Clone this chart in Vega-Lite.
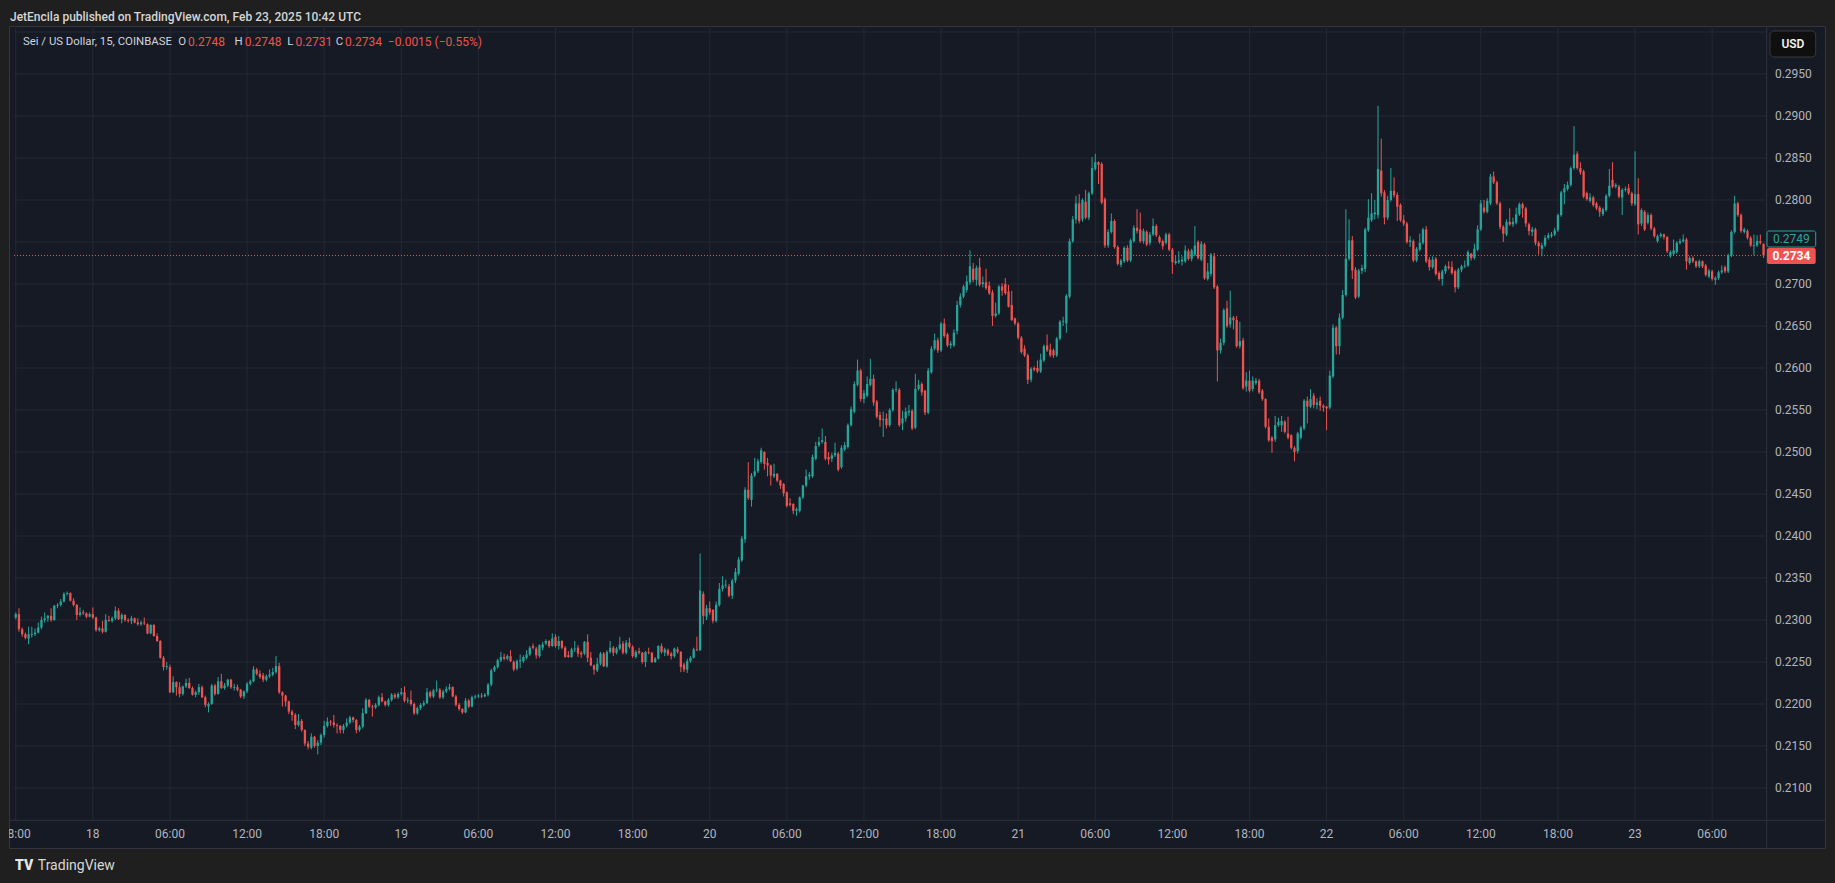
{
  "$schema": "https://vega.github.io/schema/vega-lite/v6.json",
  "width": 1816,
  "height": 822,
  "autosize": {"type": "none"},
  "padding": {"left": 9, "top": 26, "right": 10, "bottom": 35},
  "background": "#1f1f1f",
  "config": {
    "view": {"fill": "#161a25", "stroke": "#33363f", "strokeWidth": 1},
    "font": "Roboto",
    "text": {"font": "Roboto"}
  },
  "title": {
    "text": "JetEncila published on TradingView.com, Feb 23, 2025 10:42 UTC",
    "anchor": "start", "frame": "group", "baseline": "middle", "offset": -3, "dx": 1,
    "font": "Roboto", "fontSize": 12, "fontWeight": 500, "color": "#d6d6d6"
  },
  "datasets": {
    "levels": [
      {"p": 0.21}, {"p": 0.215}, {"p": 0.22}, {"p": 0.225}, {"p": 0.23}, {"p": 0.235}, {"p": 0.24},
      {"p": 0.245}, {"p": 0.25}, {"p": 0.255}, {"p": 0.26}, {"p": 0.265}, {"p": 0.27}, {"p": 0.275},
      {"p": 0.28}, {"p": 0.285}, {"p": 0.29}, {"p": 0.295}, {"p": 0.3}
    ],
    "ticks": [
      {"t": "2025-02-17T18:00", "lab": "18:00"}, {"t": "2025-02-18T00:00", "lab": "18"}, {"t": "2025-02-18T06:00", "lab": "06:00"}, {"t": "2025-02-18T12:00", "lab": "12:00"},
      {"t": "2025-02-18T18:00", "lab": "18:00"}, {"t": "2025-02-19T00:00", "lab": "19"}, {"t": "2025-02-19T06:00", "lab": "06:00"}, {"t": "2025-02-19T12:00", "lab": "12:00"},
      {"t": "2025-02-19T18:00", "lab": "18:00"}, {"t": "2025-02-20T00:00", "lab": "20"}, {"t": "2025-02-20T06:00", "lab": "06:00"}, {"t": "2025-02-20T12:00", "lab": "12:00"},
      {"t": "2025-02-20T18:00", "lab": "18:00"}, {"t": "2025-02-21T00:00", "lab": "21"}, {"t": "2025-02-21T06:00", "lab": "06:00"}, {"t": "2025-02-21T12:00", "lab": "12:00"},
      {"t": "2025-02-21T18:00", "lab": "18:00"}, {"t": "2025-02-22T00:00", "lab": "22"}, {"t": "2025-02-22T06:00", "lab": "06:00"}, {"t": "2025-02-22T12:00", "lab": "12:00"},
      {"t": "2025-02-22T18:00", "lab": "18:00"}, {"t": "2025-02-23T00:00", "lab": "23"}, {"t": "2025-02-23T06:00", "lab": "06:00"}
    ],
    "candles": [
      {"t":"2025-02-17T18:00","o":0.2303,"h":0.2309,"l":0.2301,"c":0.2307},
      {"t":"2025-02-17T18:15","o":0.2307,"h":0.2314,"l":0.2286,"c":0.2289},
      {"t":"2025-02-17T18:30","o":0.2289,"h":0.2291,"l":0.2280,"c":0.2283},
      {"t":"2025-02-17T18:45","o":0.2283,"h":0.2285,"l":0.2277,"c":0.2279},
      {"t":"2025-02-17T19:00","o":0.2278,"h":0.2292,"l":0.2271,"c":0.2283},
      {"t":"2025-02-17T19:15","o":0.2282,"h":0.2292,"l":0.2279,"c":0.2283},
      {"t":"2025-02-17T19:30","o":0.2283,"h":0.2290,"l":0.2281,"c":0.2285},
      {"t":"2025-02-17T19:45","o":0.2285,"h":0.2297,"l":0.2284,"c":0.2291},
      {"t":"2025-02-17T20:00","o":0.2291,"h":0.2304,"l":0.2289,"c":0.2300},
      {"t":"2025-02-17T20:15","o":0.2300,"h":0.2309,"l":0.2297,"c":0.2302},
      {"t":"2025-02-17T20:30","o":0.2302,"h":0.2306,"l":0.2298,"c":0.2305},
      {"t":"2025-02-17T20:45","o":0.2305,"h":0.2314,"l":0.2298,"c":0.2300},
      {"t":"2025-02-17T21:00","o":0.2300,"h":0.2318,"l":0.2299,"c":0.2317},
      {"t":"2025-02-17T21:15","o":0.2317,"h":0.2320,"l":0.2314,"c":0.2318},
      {"t":"2025-02-17T21:30","o":0.2318,"h":0.2325,"l":0.2316,"c":0.2322},
      {"t":"2025-02-17T21:45","o":0.2322,"h":0.2333,"l":0.2321,"c":0.2331},
      {"t":"2025-02-17T22:00","o":0.2331,"h":0.2334,"l":0.2329,"c":0.2332},
      {"t":"2025-02-17T22:15","o":0.2332,"h":0.2333,"l":0.2322,"c":0.2323},
      {"t":"2025-02-17T22:30","o":0.2323,"h":0.2326,"l":0.2316,"c":0.2318},
      {"t":"2025-02-17T22:45","o":0.2318,"h":0.2319,"l":0.2300,"c":0.2306},
      {"t":"2025-02-17T23:00","o":0.2306,"h":0.2315,"l":0.2304,"c":0.2309},
      {"t":"2025-02-17T23:15","o":0.2309,"h":0.2312,"l":0.2306,"c":0.2308},
      {"t":"2025-02-17T23:30","o":0.2308,"h":0.2309,"l":0.2302,"c":0.2304},
      {"t":"2025-02-17T23:45","o":0.2304,"h":0.2309,"l":0.2303,"c":0.2307},
      {"t":"2025-02-18T00:00","o":0.2307,"h":0.2315,"l":0.2301,"c":0.2303},
      {"t":"2025-02-18T00:15","o":0.2303,"h":0.2304,"l":0.2286,"c":0.2288},
      {"t":"2025-02-18T00:30","o":0.2288,"h":0.2292,"l":0.2286,"c":0.2290},
      {"t":"2025-02-18T00:45","o":0.2290,"h":0.2299,"l":0.2284,"c":0.2286},
      {"t":"2025-02-18T01:00","o":0.2286,"h":0.2307,"l":0.2285,"c":0.2300},
      {"t":"2025-02-18T01:15","o":0.2300,"h":0.2305,"l":0.2298,"c":0.2299},
      {"t":"2025-02-18T01:30","o":0.2299,"h":0.2304,"l":0.2297,"c":0.2302},
      {"t":"2025-02-18T01:45","o":0.2302,"h":0.2316,"l":0.2300,"c":0.2311},
      {"t":"2025-02-18T02:00","o":0.2311,"h":0.2314,"l":0.2300,"c":0.2301},
      {"t":"2025-02-18T02:15","o":0.2301,"h":0.2308,"l":0.2296,"c":0.2306},
      {"t":"2025-02-18T02:30","o":0.2306,"h":0.2307,"l":0.2298,"c":0.2300},
      {"t":"2025-02-18T02:45","o":0.2300,"h":0.2302,"l":0.2297,"c":0.2299},
      {"t":"2025-02-18T03:00","o":0.2299,"h":0.2305,"l":0.2295,"c":0.2302},
      {"t":"2025-02-18T03:15","o":0.2302,"h":0.2303,"l":0.2296,"c":0.2297},
      {"t":"2025-02-18T03:30","o":0.2297,"h":0.2302,"l":0.2293,"c":0.2295},
      {"t":"2025-02-18T03:45","o":0.2295,"h":0.2299,"l":0.2293,"c":0.2297},
      {"t":"2025-02-18T04:00","o":0.2297,"h":0.2303,"l":0.2294,"c":0.2296},
      {"t":"2025-02-18T04:15","o":0.2295,"h":0.2296,"l":0.2283,"c":0.2284},
      {"t":"2025-02-18T04:30","o":0.2284,"h":0.2295,"l":0.2283,"c":0.2294},
      {"t":"2025-02-18T04:45","o":0.2294,"h":0.2295,"l":0.2280,"c":0.2281},
      {"t":"2025-02-18T05:00","o":0.2281,"h":0.2284,"l":0.2274,"c":0.2275},
      {"t":"2025-02-18T05:15","o":0.2275,"h":0.2276,"l":0.2254,"c":0.2255},
      {"t":"2025-02-18T05:30","o":0.2255,"h":0.2257,"l":0.2240,"c":0.2244},
      {"t":"2025-02-18T05:45","o":0.2244,"h":0.2250,"l":0.2241,"c":0.2245},
      {"t":"2025-02-18T06:00","o":0.2244,"h":0.2247,"l":0.2213,"c":0.2214},
      {"t":"2025-02-18T06:15","o":0.2214,"h":0.2233,"l":0.2213,"c":0.2226},
      {"t":"2025-02-18T06:30","o":0.2226,"h":0.2227,"l":0.2210,"c":0.2220},
      {"t":"2025-02-18T06:45","o":0.2220,"h":0.2226,"l":0.2208,"c":0.2212},
      {"t":"2025-02-18T07:00","o":0.2212,"h":0.2222,"l":0.2210,"c":0.2221},
      {"t":"2025-02-18T07:15","o":0.2221,"h":0.2230,"l":0.2219,"c":0.2225},
      {"t":"2025-02-18T07:30","o":0.2225,"h":0.2231,"l":0.2218,"c":0.2219},
      {"t":"2025-02-18T07:45","o":0.2219,"h":0.2221,"l":0.2210,"c":0.2211},
      {"t":"2025-02-18T08:00","o":0.2211,"h":0.2216,"l":0.2208,"c":0.2214},
      {"t":"2025-02-18T08:15","o":0.2214,"h":0.2224,"l":0.2211,"c":0.2220},
      {"t":"2025-02-18T08:30","o":0.2220,"h":0.2222,"l":0.2207,"c":0.2208},
      {"t":"2025-02-18T08:45","o":0.2208,"h":0.2210,"l":0.2196,"c":0.2199},
      {"t":"2025-02-18T09:00","o":0.2197,"h":0.2202,"l":0.2190,"c":0.2200},
      {"t":"2025-02-18T09:15","o":0.2200,"h":0.2224,"l":0.2199,"c":0.2222},
      {"t":"2025-02-18T09:30","o":0.2222,"h":0.2224,"l":0.2210,"c":0.2212},
      {"t":"2025-02-18T09:45","o":0.2212,"h":0.2232,"l":0.2211,"c":0.2227},
      {"t":"2025-02-18T10:00","o":0.2227,"h":0.2236,"l":0.2218,"c":0.2219},
      {"t":"2025-02-18T10:15","o":0.2219,"h":0.2225,"l":0.2217,"c":0.2222},
      {"t":"2025-02-18T10:30","o":0.2222,"h":0.2230,"l":0.2220,"c":0.2229},
      {"t":"2025-02-18T10:45","o":0.2229,"h":0.2230,"l":0.2218,"c":0.2220},
      {"t":"2025-02-18T11:00","o":0.2219,"h":0.2224,"l":0.2216,"c":0.2220},
      {"t":"2025-02-18T11:15","o":0.2220,"h":0.2223,"l":0.2215,"c":0.2217},
      {"t":"2025-02-18T11:30","o":0.2217,"h":0.2218,"l":0.2207,"c":0.2209},
      {"t":"2025-02-18T11:45","o":0.2209,"h":0.2216,"l":0.2206,"c":0.2215},
      {"t":"2025-02-18T12:00","o":0.2215,"h":0.2226,"l":0.2213,"c":0.2224},
      {"t":"2025-02-18T12:15","o":0.2224,"h":0.2229,"l":0.2222,"c":0.2227},
      {"t":"2025-02-18T12:30","o":0.2227,"h":0.2245,"l":0.2226,"c":0.2241},
      {"t":"2025-02-18T12:45","o":0.2241,"h":0.2243,"l":0.2234,"c":0.2236},
      {"t":"2025-02-18T13:00","o":0.2236,"h":0.2240,"l":0.2230,"c":0.2232},
      {"t":"2025-02-18T13:15","o":0.2234,"h":0.2237,"l":0.2226,"c":0.2229},
      {"t":"2025-02-18T13:30","o":0.2229,"h":0.2235,"l":0.2227,"c":0.2233},
      {"t":"2025-02-18T13:45","o":0.2233,"h":0.2241,"l":0.2231,"c":0.2235},
      {"t":"2025-02-18T14:00","o":0.2235,"h":0.2243,"l":0.2233,"c":0.2238},
      {"t":"2025-02-18T14:15","o":0.2238,"h":0.2257,"l":0.2236,"c":0.2245},
      {"t":"2025-02-18T14:30","o":0.2245,"h":0.2249,"l":0.2212,"c":0.2214},
      {"t":"2025-02-18T14:45","o":0.2214,"h":0.2215,"l":0.2197,"c":0.2210},
      {"t":"2025-02-18T15:00","o":0.2210,"h":0.2211,"l":0.2197,"c":0.2203},
      {"t":"2025-02-18T15:15","o":0.2203,"h":0.2204,"l":0.2188,"c":0.2191},
      {"t":"2025-02-18T15:30","o":0.2191,"h":0.2193,"l":0.2180,"c":0.2187},
      {"t":"2025-02-18T15:45","o":0.2187,"h":0.2189,"l":0.2170,"c":0.2175},
      {"t":"2025-02-18T16:00","o":0.2175,"h":0.2188,"l":0.2173,"c":0.2180},
      {"t":"2025-02-18T16:15","o":0.2180,"h":0.2182,"l":0.2167,"c":0.2169},
      {"t":"2025-02-18T16:30","o":0.2169,"h":0.2170,"l":0.2150,"c":0.2153},
      {"t":"2025-02-18T16:45","o":0.2153,"h":0.2156,"l":0.2146,"c":0.2149},
      {"t":"2025-02-18T17:00","o":0.2148,"h":0.2165,"l":0.2146,"c":0.2161},
      {"t":"2025-02-18T17:15","o":0.2161,"h":0.2162,"l":0.2148,"c":0.2150},
      {"t":"2025-02-18T17:30","o":0.2150,"h":0.2157,"l":0.2140,"c":0.2154},
      {"t":"2025-02-18T17:45","o":0.2154,"h":0.2165,"l":0.2151,"c":0.2163},
      {"t":"2025-02-18T18:00","o":0.2163,"h":0.2180,"l":0.2160,"c":0.2174},
      {"t":"2025-02-18T18:15","o":0.2174,"h":0.2184,"l":0.2172,"c":0.2179},
      {"t":"2025-02-18T18:30","o":0.2179,"h":0.2181,"l":0.2174,"c":0.2178},
      {"t":"2025-02-18T18:45","o":0.2178,"h":0.2187,"l":0.2172,"c":0.2175},
      {"t":"2025-02-18T19:00","o":0.2175,"h":0.2177,"l":0.2165,"c":0.2174},
      {"t":"2025-02-18T19:15","o":0.2174,"h":0.2175,"l":0.2165,"c":0.2169},
      {"t":"2025-02-18T19:30","o":0.2169,"h":0.2176,"l":0.2165,"c":0.2174},
      {"t":"2025-02-18T19:45","o":0.2174,"h":0.2183,"l":0.2172,"c":0.2178},
      {"t":"2025-02-18T20:00","o":0.2178,"h":0.2186,"l":0.2176,"c":0.2184},
      {"t":"2025-02-18T20:15","o":0.2184,"h":0.2185,"l":0.2178,"c":0.2181},
      {"t":"2025-02-18T20:30","o":0.2181,"h":0.2182,"l":0.2165,"c":0.2169},
      {"t":"2025-02-18T20:45","o":0.2169,"h":0.2175,"l":0.2167,"c":0.2173},
      {"t":"2025-02-18T21:00","o":0.2173,"h":0.2195,"l":0.2171,"c":0.2189},
      {"t":"2025-02-18T21:15","o":0.2189,"h":0.2207,"l":0.2188,"c":0.2205},
      {"t":"2025-02-18T21:30","o":0.2205,"h":0.2206,"l":0.2195,"c":0.2197},
      {"t":"2025-02-18T21:45","o":0.2197,"h":0.2199,"l":0.2185,"c":0.2196},
      {"t":"2025-02-18T22:00","o":0.2196,"h":0.2201,"l":0.2194,"c":0.2199},
      {"t":"2025-02-18T22:15","o":0.2199,"h":0.2210,"l":0.2197,"c":0.2208},
      {"t":"2025-02-18T22:30","o":0.2208,"h":0.2213,"l":0.2202,"c":0.2203},
      {"t":"2025-02-18T22:45","o":0.2203,"h":0.2204,"l":0.2197,"c":0.2199},
      {"t":"2025-02-18T23:00","o":0.2199,"h":0.2207,"l":0.2197,"c":0.2205},
      {"t":"2025-02-18T23:15","o":0.2205,"h":0.2213,"l":0.2203,"c":0.2211},
      {"t":"2025-02-18T23:30","o":0.2211,"h":0.2213,"l":0.2206,"c":0.2208},
      {"t":"2025-02-18T23:45","o":0.2208,"h":0.2214,"l":0.2206,"c":0.2212},
      {"t":"2025-02-19T00:00","o":0.2212,"h":0.2219,"l":0.2210,"c":0.2214},
      {"t":"2025-02-19T00:15","o":0.2214,"h":0.2221,"l":0.2202,"c":0.2204},
      {"t":"2025-02-19T00:30","o":0.2204,"h":0.2208,"l":0.2201,"c":0.2205},
      {"t":"2025-02-19T00:45","o":0.2205,"h":0.2216,"l":0.2198,"c":0.2200},
      {"t":"2025-02-19T01:00","o":0.2200,"h":0.2202,"l":0.2187,"c":0.2189},
      {"t":"2025-02-19T01:15","o":0.2189,"h":0.2197,"l":0.2187,"c":0.2195},
      {"t":"2025-02-19T01:30","o":0.2195,"h":0.2201,"l":0.2193,"c":0.2199},
      {"t":"2025-02-19T01:45","o":0.2199,"h":0.2204,"l":0.2197,"c":0.2201},
      {"t":"2025-02-19T02:00","o":0.2201,"h":0.2219,"l":0.2200,"c":0.2214},
      {"t":"2025-02-19T02:15","o":0.2214,"h":0.2216,"l":0.2207,"c":0.2209},
      {"t":"2025-02-19T02:30","o":0.2209,"h":0.2218,"l":0.2207,"c":0.2216},
      {"t":"2025-02-19T02:45","o":0.2216,"h":0.2228,"l":0.2214,"c":0.2217},
      {"t":"2025-02-19T03:00","o":0.2217,"h":0.2219,"l":0.2206,"c":0.2208},
      {"t":"2025-02-19T03:15","o":0.2208,"h":0.2217,"l":0.2206,"c":0.2215},
      {"t":"2025-02-19T03:30","o":0.2215,"h":0.2221,"l":0.2213,"c":0.2218},
      {"t":"2025-02-19T03:45","o":0.2218,"h":0.2224,"l":0.2216,"c":0.2220},
      {"t":"2025-02-19T04:00","o":0.2220,"h":0.2221,"l":0.2208,"c":0.2209},
      {"t":"2025-02-19T04:15","o":0.2209,"h":0.2211,"l":0.2197,"c":0.2199},
      {"t":"2025-02-19T04:30","o":0.2199,"h":0.2201,"l":0.2192,"c":0.2194},
      {"t":"2025-02-19T04:45","o":0.2194,"h":0.2195,"l":0.2188,"c":0.2190},
      {"t":"2025-02-19T05:00","o":0.2190,"h":0.2207,"l":0.2189,"c":0.2204},
      {"t":"2025-02-19T05:15","o":0.2204,"h":0.2206,"l":0.2195,"c":0.2197},
      {"t":"2025-02-19T05:30","o":0.2197,"h":0.2210,"l":0.2196,"c":0.2208},
      {"t":"2025-02-19T05:45","o":0.2208,"h":0.2211,"l":0.2206,"c":0.2209},
      {"t":"2025-02-19T06:00","o":0.2209,"h":0.2212,"l":0.2207,"c":0.2210},
      {"t":"2025-02-19T06:15","o":0.2210,"h":0.2213,"l":0.2207,"c":0.2209},
      {"t":"2025-02-19T06:30","o":0.2209,"h":0.2213,"l":0.2208,"c":0.2211},
      {"t":"2025-02-19T06:45","o":0.2211,"h":0.2225,"l":0.2209,"c":0.2223},
      {"t":"2025-02-19T07:00","o":0.2223,"h":0.2242,"l":0.2221,"c":0.2240},
      {"t":"2025-02-19T07:15","o":0.2240,"h":0.2246,"l":0.2238,"c":0.2244},
      {"t":"2025-02-19T07:30","o":0.2244,"h":0.2254,"l":0.2242,"c":0.2252},
      {"t":"2025-02-19T07:45","o":0.2252,"h":0.2262,"l":0.2250,"c":0.2256},
      {"t":"2025-02-19T08:00","o":0.2256,"h":0.2260,"l":0.2252,"c":0.2254},
      {"t":"2025-02-19T08:15","o":0.2254,"h":0.2259,"l":0.2252,"c":0.2257},
      {"t":"2025-02-19T08:30","o":0.2257,"h":0.2264,"l":0.2250,"c":0.2251},
      {"t":"2025-02-19T08:45","o":0.2250,"h":0.2252,"l":0.2239,"c":0.2241},
      {"t":"2025-02-19T09:00","o":0.2242,"h":0.2253,"l":0.2240,"c":0.2251},
      {"t":"2025-02-19T09:15","o":0.2251,"h":0.2259,"l":0.2243,"c":0.2252},
      {"t":"2025-02-19T09:30","o":0.2251,"h":0.2258,"l":0.2249,"c":0.2256},
      {"t":"2025-02-19T09:45","o":0.2255,"h":0.2264,"l":0.2253,"c":0.2259},
      {"t":"2025-02-19T10:00","o":0.2259,"h":0.2269,"l":0.2257,"c":0.2267},
      {"t":"2025-02-19T10:15","o":0.2269,"h":0.2272,"l":0.2265,"c":0.2267},
      {"t":"2025-02-19T10:30","o":0.2266,"h":0.2268,"l":0.2254,"c":0.2258},
      {"t":"2025-02-19T10:45","o":0.2257,"h":0.2271,"l":0.2255,"c":0.2270},
      {"t":"2025-02-19T11:00","o":0.2267,"h":0.2274,"l":0.2264,"c":0.2271},
      {"t":"2025-02-19T11:15","o":0.2272,"h":0.2277,"l":0.2270,"c":0.2275},
      {"t":"2025-02-19T11:30","o":0.2275,"h":0.2276,"l":0.2267,"c":0.2269},
      {"t":"2025-02-19T11:45","o":0.2269,"h":0.2284,"l":0.2268,"c":0.2278},
      {"t":"2025-02-19T12:00","o":0.2280,"h":0.2283,"l":0.2267,"c":0.2269},
      {"t":"2025-02-19T12:15","o":0.2269,"h":0.2281,"l":0.2265,"c":0.2275},
      {"t":"2025-02-19T12:30","o":0.2275,"h":0.2276,"l":0.2265,"c":0.2267},
      {"t":"2025-02-19T12:45","o":0.2267,"h":0.2269,"l":0.2255,"c":0.2256},
      {"t":"2025-02-19T13:00","o":0.2258,"h":0.2263,"l":0.2255,"c":0.2256},
      {"t":"2025-02-19T13:15","o":0.2256,"h":0.2267,"l":0.2255,"c":0.2265},
      {"t":"2025-02-19T13:30","o":0.2265,"h":0.2275,"l":0.2262,"c":0.2266},
      {"t":"2025-02-19T13:45","o":0.2267,"h":0.2270,"l":0.2256,"c":0.2260},
      {"t":"2025-02-19T14:00","o":0.2261,"h":0.2263,"l":0.2255,"c":0.2259},
      {"t":"2025-02-19T14:15","o":0.2260,"h":0.2275,"l":0.2258,"c":0.2274},
      {"t":"2025-02-19T14:30","o":0.2274,"h":0.2283,"l":0.2250,"c":0.2255},
      {"t":"2025-02-19T14:45","o":0.2255,"h":0.2262,"l":0.2245,"c":0.2246},
      {"t":"2025-02-19T15:00","o":0.2246,"h":0.2247,"l":0.2235,"c":0.2241},
      {"t":"2025-02-19T15:15","o":0.2240,"h":0.2255,"l":0.2238,"c":0.2248},
      {"t":"2025-02-19T15:30","o":0.2248,"h":0.2262,"l":0.2246,"c":0.2260},
      {"t":"2025-02-19T15:45","o":0.2260,"h":0.2262,"l":0.2244,"c":0.2245},
      {"t":"2025-02-19T16:00","o":0.2245,"h":0.2264,"l":0.2243,"c":0.2262},
      {"t":"2025-02-19T16:15","o":0.2262,"h":0.2275,"l":0.2260,"c":0.2267},
      {"t":"2025-02-19T16:30","o":0.2267,"h":0.2269,"l":0.2257,"c":0.2261},
      {"t":"2025-02-19T16:45","o":0.2261,"h":0.2268,"l":0.2259,"c":0.2266},
      {"t":"2025-02-19T17:00","o":0.2266,"h":0.2280,"l":0.2264,"c":0.2271},
      {"t":"2025-02-19T17:15","o":0.2272,"h":0.2275,"l":0.2259,"c":0.2261},
      {"t":"2025-02-19T17:30","o":0.2261,"h":0.2276,"l":0.2259,"c":0.2273},
      {"t":"2025-02-19T17:45","o":0.2273,"h":0.2279,"l":0.2266,"c":0.2268},
      {"t":"2025-02-19T18:00","o":0.2268,"h":0.2270,"l":0.2255,"c":0.2257},
      {"t":"2025-02-19T18:15","o":0.2256,"h":0.2264,"l":0.2254,"c":0.2262},
      {"t":"2025-02-19T18:30","o":0.2263,"h":0.2267,"l":0.2259,"c":0.2261},
      {"t":"2025-02-19T18:45","o":0.2261,"h":0.2262,"l":0.2248,"c":0.2250},
      {"t":"2025-02-19T19:00","o":0.2250,"h":0.2263,"l":0.2244,"c":0.2262},
      {"t":"2025-02-19T19:15","o":0.2262,"h":0.2267,"l":0.2259,"c":0.2261},
      {"t":"2025-02-19T19:30","o":0.2261,"h":0.2262,"l":0.2249,"c":0.2250},
      {"t":"2025-02-19T19:45","o":0.2250,"h":0.2256,"l":0.2249,"c":0.2254},
      {"t":"2025-02-19T20:00","o":0.2254,"h":0.2270,"l":0.2253,"c":0.2269},
      {"t":"2025-02-19T20:15","o":0.2269,"h":0.2272,"l":0.2260,"c":0.2262},
      {"t":"2025-02-19T20:30","o":0.2261,"h":0.2267,"l":0.2257,"c":0.2265},
      {"t":"2025-02-19T20:45","o":0.2264,"h":0.2266,"l":0.2257,"c":0.2259},
      {"t":"2025-02-19T21:00","o":0.2260,"h":0.2262,"l":0.2253,"c":0.2257},
      {"t":"2025-02-19T21:15","o":0.2257,"h":0.2267,"l":0.2255,"c":0.2266},
      {"t":"2025-02-19T21:30","o":0.2265,"h":0.2268,"l":0.2260,"c":0.2262},
      {"t":"2025-02-19T21:45","o":0.2262,"h":0.2263,"l":0.2238,"c":0.2244},
      {"t":"2025-02-19T22:00","o":0.2247,"h":0.2249,"l":0.2238,"c":0.2241},
      {"t":"2025-02-19T22:15","o":0.2241,"h":0.2254,"l":0.2237,"c":0.2251},
      {"t":"2025-02-19T22:30","o":0.2251,"h":0.2257,"l":0.2249,"c":0.2255},
      {"t":"2025-02-19T22:45","o":0.2255,"h":0.2267,"l":0.2254,"c":0.2265},
      {"t":"2025-02-19T23:00","o":0.2265,"h":0.2280,"l":0.2263,"c":0.2264},
      {"t":"2025-02-19T23:15","o":0.2264,"h":0.2379,"l":0.2263,"c":0.2335},
      {"t":"2025-02-19T23:30","o":0.2331,"h":0.2334,"l":0.2295,"c":0.2305},
      {"t":"2025-02-19T23:45","o":0.2304,"h":0.2318,"l":0.2300,"c":0.2314},
      {"t":"2025-02-20T00:00","o":0.2314,"h":0.2322,"l":0.2306,"c":0.2309},
      {"t":"2025-02-20T00:15","o":0.2312,"h":0.2313,"l":0.2296,"c":0.2299},
      {"t":"2025-02-20T00:30","o":0.2299,"h":0.2322,"l":0.2297,"c":0.2318},
      {"t":"2025-02-20T00:45","o":0.2318,"h":0.2344,"l":0.2316,"c":0.2337},
      {"t":"2025-02-20T01:00","o":0.2337,"h":0.2352,"l":0.2334,"c":0.2341},
      {"t":"2025-02-20T01:15","o":0.2341,"h":0.2348,"l":0.2338,"c":0.2342},
      {"t":"2025-02-20T01:30","o":0.2340,"h":0.2343,"l":0.2327,"c":0.2329},
      {"t":"2025-02-20T01:45","o":0.2329,"h":0.2349,"l":0.2325,"c":0.2347},
      {"t":"2025-02-20T02:00","o":0.2347,"h":0.2362,"l":0.2344,"c":0.2357},
      {"t":"2025-02-20T02:15","o":0.2355,"h":0.2375,"l":0.2353,"c":0.2372},
      {"t":"2025-02-20T02:30","o":0.2371,"h":0.2400,"l":0.2369,"c":0.2397},
      {"t":"2025-02-20T02:45","o":0.2396,"h":0.2458,"l":0.2392,"c":0.2455},
      {"t":"2025-02-20T03:00","o":0.2455,"h":0.2488,"l":0.2443,"c":0.2445},
      {"t":"2025-02-20T03:15","o":0.2443,"h":0.2475,"l":0.2435,"c":0.2472},
      {"t":"2025-02-20T03:30","o":0.2472,"h":0.2493,"l":0.2470,"c":0.2477},
      {"t":"2025-02-20T03:45","o":0.2477,"h":0.2492,"l":0.2475,"c":0.2489},
      {"t":"2025-02-20T04:00","o":0.2488,"h":0.2505,"l":0.2486,"c":0.2502},
      {"t":"2025-02-20T04:15","o":0.2500,"h":0.2501,"l":0.2479,"c":0.2486},
      {"t":"2025-02-20T04:30","o":0.2487,"h":0.2493,"l":0.2471,"c":0.2484},
      {"t":"2025-02-20T04:45","o":0.2484,"h":0.2485,"l":0.2460,"c":0.2472},
      {"t":"2025-02-20T05:00","o":0.2471,"h":0.2486,"l":0.2469,"c":0.2474},
      {"t":"2025-02-20T05:15","o":0.2474,"h":0.2475,"l":0.2464,"c":0.2466},
      {"t":"2025-02-20T05:30","o":0.2466,"h":0.2467,"l":0.2456,"c":0.2460},
      {"t":"2025-02-20T05:45","o":0.2462,"h":0.2463,"l":0.2447,"c":0.2451},
      {"t":"2025-02-20T06:00","o":0.2452,"h":0.2453,"l":0.2434,"c":0.2436},
      {"t":"2025-02-20T06:15","o":0.2439,"h":0.2445,"l":0.2435,"c":0.2437},
      {"t":"2025-02-20T06:30","o":0.2438,"h":0.2439,"l":0.2426,"c":0.2430},
      {"t":"2025-02-20T06:45","o":0.2430,"h":0.2434,"l":0.2424,"c":0.2432},
      {"t":"2025-02-20T07:00","o":0.2430,"h":0.2447,"l":0.2428,"c":0.2446},
      {"t":"2025-02-20T07:15","o":0.2446,"h":0.2461,"l":0.2444,"c":0.2460},
      {"t":"2025-02-20T07:30","o":0.2460,"h":0.2479,"l":0.2458,"c":0.2471},
      {"t":"2025-02-20T07:45","o":0.2471,"h":0.2476,"l":0.2467,"c":0.2473},
      {"t":"2025-02-20T08:00","o":0.2471,"h":0.2497,"l":0.2469,"c":0.2494},
      {"t":"2025-02-20T08:15","o":0.2492,"h":0.2512,"l":0.2490,"c":0.2507},
      {"t":"2025-02-20T08:30","o":0.2508,"h":0.2518,"l":0.2506,"c":0.2512},
      {"t":"2025-02-20T08:45","o":0.2512,"h":0.2528,"l":0.2510,"c":0.2514},
      {"t":"2025-02-20T09:00","o":0.2512,"h":0.2519,"l":0.2490,"c":0.2492},
      {"t":"2025-02-20T09:15","o":0.2494,"h":0.2500,"l":0.2485,"c":0.2491},
      {"t":"2025-02-20T09:30","o":0.2492,"h":0.2499,"l":0.2488,"c":0.2496},
      {"t":"2025-02-20T09:45","o":0.2496,"h":0.2511,"l":0.2494,"c":0.2499},
      {"t":"2025-02-20T10:00","o":0.2498,"h":0.2500,"l":0.2477,"c":0.2479},
      {"t":"2025-02-20T10:15","o":0.2482,"h":0.2508,"l":0.2480,"c":0.2505},
      {"t":"2025-02-20T10:30","o":0.2503,"h":0.2512,"l":0.2501,"c":0.2508},
      {"t":"2025-02-20T10:45","o":0.2506,"h":0.2534,"l":0.2504,"c":0.2532},
      {"t":"2025-02-20T11:00","o":0.2532,"h":0.2554,"l":0.2530,"c":0.2551},
      {"t":"2025-02-20T11:15","o":0.2548,"h":0.2584,"l":0.2546,"c":0.2581},
      {"t":"2025-02-20T11:30","o":0.2580,"h":0.2610,"l":0.2578,"c":0.2597},
      {"t":"2025-02-20T11:45","o":0.2597,"h":0.2599,"l":0.2560,"c":0.2563},
      {"t":"2025-02-20T12:00","o":0.2563,"h":0.2574,"l":0.2558,"c":0.2570},
      {"t":"2025-02-20T12:15","o":0.2567,"h":0.2590,"l":0.2565,"c":0.2581},
      {"t":"2025-02-20T12:30","o":0.2580,"h":0.2611,"l":0.2578,"c":0.2587},
      {"t":"2025-02-20T12:45","o":0.2587,"h":0.2592,"l":0.2555,"c":0.2559},
      {"t":"2025-02-20T13:00","o":0.2560,"h":0.2562,"l":0.2540,"c":0.2542},
      {"t":"2025-02-20T13:15","o":0.2544,"h":0.2548,"l":0.2530,"c":0.2538},
      {"t":"2025-02-20T13:30","o":0.2538,"h":0.2548,"l":0.2518,"c":0.2539},
      {"t":"2025-02-20T13:45","o":0.2540,"h":0.2546,"l":0.2528,"c":0.2532},
      {"t":"2025-02-20T14:00","o":0.2532,"h":0.2552,"l":0.2530,"c":0.2550},
      {"t":"2025-02-20T14:15","o":0.2550,"h":0.2576,"l":0.2548,"c":0.2574},
      {"t":"2025-02-20T14:30","o":0.2574,"h":0.2584,"l":0.2571,"c":0.2575},
      {"t":"2025-02-20T14:45","o":0.2574,"h":0.2576,"l":0.2530,"c":0.2532},
      {"t":"2025-02-20T15:00","o":0.2534,"h":0.2549,"l":0.2526,"c":0.2540},
      {"t":"2025-02-20T15:15","o":0.2540,"h":0.2553,"l":0.2536,"c":0.2548},
      {"t":"2025-02-20T15:30","o":0.2547,"h":0.2556,"l":0.2543,"c":0.2549},
      {"t":"2025-02-20T15:45","o":0.2549,"h":0.2551,"l":0.2526,"c":0.2528},
      {"t":"2025-02-20T16:00","o":0.2529,"h":0.2593,"l":0.2527,"c":0.2575},
      {"t":"2025-02-20T16:15","o":0.2575,"h":0.2586,"l":0.2573,"c":0.2580},
      {"t":"2025-02-20T16:30","o":0.2581,"h":0.2583,"l":0.2567,"c":0.2571},
      {"t":"2025-02-20T16:45","o":0.2573,"h":0.2574,"l":0.2544,"c":0.2547},
      {"t":"2025-02-20T17:00","o":0.2547,"h":0.2600,"l":0.2545,"c":0.2597},
      {"t":"2025-02-20T17:15","o":0.2595,"h":0.2626,"l":0.2593,"c":0.2623},
      {"t":"2025-02-20T17:30","o":0.2623,"h":0.2641,"l":0.2621,"c":0.2633},
      {"t":"2025-02-20T17:45","o":0.2633,"h":0.2636,"l":0.2618,"c":0.2621},
      {"t":"2025-02-20T18:00","o":0.2621,"h":0.2655,"l":0.2619,"c":0.2653},
      {"t":"2025-02-20T18:15","o":0.2653,"h":0.2659,"l":0.2636,"c":0.2638},
      {"t":"2025-02-20T18:30","o":0.2640,"h":0.2642,"l":0.2625,"c":0.2627},
      {"t":"2025-02-20T18:45","o":0.2627,"h":0.2632,"l":0.2623,"c":0.2629},
      {"t":"2025-02-20T19:00","o":0.2627,"h":0.2646,"l":0.2625,"c":0.2642},
      {"t":"2025-02-20T19:15","o":0.2644,"h":0.2680,"l":0.2640,"c":0.2675},
      {"t":"2025-02-20T19:30","o":0.2675,"h":0.2689,"l":0.2672,"c":0.2685},
      {"t":"2025-02-20T19:45","o":0.2685,"h":0.2699,"l":0.2683,"c":0.2697},
      {"t":"2025-02-20T20:00","o":0.2693,"h":0.2710,"l":0.2690,"c":0.2703},
      {"t":"2025-02-20T20:15","o":0.2702,"h":0.2740,"l":0.2699,"c":0.2721},
      {"t":"2025-02-20T20:30","o":0.2718,"h":0.2725,"l":0.2702,"c":0.2705},
      {"t":"2025-02-20T20:45","o":0.2705,"h":0.2722,"l":0.2698,"c":0.2719},
      {"t":"2025-02-20T21:00","o":0.2720,"h":0.2731,"l":0.2697,"c":0.2699},
      {"t":"2025-02-20T21:15","o":0.2700,"h":0.2709,"l":0.2696,"c":0.2702},
      {"t":"2025-02-20T21:30","o":0.2702,"h":0.2718,"l":0.2693,"c":0.2695},
      {"t":"2025-02-20T21:45","o":0.2698,"h":0.2703,"l":0.2687,"c":0.2689},
      {"t":"2025-02-20T22:00","o":0.2690,"h":0.2693,"l":0.2650,"c":0.2662},
      {"t":"2025-02-20T22:15","o":0.2662,"h":0.2678,"l":0.2660,"c":0.2665},
      {"t":"2025-02-20T22:30","o":0.2665,"h":0.2699,"l":0.2663,"c":0.2697},
      {"t":"2025-02-20T22:45","o":0.2697,"h":0.2701,"l":0.2686,"c":0.2692},
      {"t":"2025-02-20T23:00","o":0.2700,"h":0.2707,"l":0.2687,"c":0.2689},
      {"t":"2025-02-20T23:15","o":0.2691,"h":0.2699,"l":0.2672,"c":0.2673},
      {"t":"2025-02-20T23:30","o":0.2675,"h":0.2692,"l":0.2656,"c":0.2657},
      {"t":"2025-02-20T23:45","o":0.2659,"h":0.2660,"l":0.2651,"c":0.2653},
      {"t":"2025-02-21T00:00","o":0.2653,"h":0.2655,"l":0.2634,"c":0.2636},
      {"t":"2025-02-21T00:15","o":0.2636,"h":0.2638,"l":0.2617,"c":0.2619},
      {"t":"2025-02-21T00:30","o":0.2623,"h":0.2627,"l":0.2613,"c":0.2615},
      {"t":"2025-02-21T00:45","o":0.2615,"h":0.2617,"l":0.2581,"c":0.2586},
      {"t":"2025-02-21T01:00","o":0.2586,"h":0.2601,"l":0.2583,"c":0.2599},
      {"t":"2025-02-21T01:15","o":0.2600,"h":0.2602,"l":0.2596,"c":0.2598},
      {"t":"2025-02-21T01:30","o":0.2600,"h":0.2609,"l":0.2594,"c":0.2596},
      {"t":"2025-02-21T01:45","o":0.2596,"h":0.2617,"l":0.2594,"c":0.2610},
      {"t":"2025-02-21T02:00","o":0.2609,"h":0.2628,"l":0.2607,"c":0.2626},
      {"t":"2025-02-21T02:15","o":0.2627,"h":0.2640,"l":0.2619,"c":0.2621},
      {"t":"2025-02-21T02:30","o":0.2622,"h":0.2629,"l":0.2613,"c":0.2615},
      {"t":"2025-02-21T02:45","o":0.2621,"h":0.2623,"l":0.2612,"c":0.2615},
      {"t":"2025-02-21T03:00","o":0.2615,"h":0.2637,"l":0.2613,"c":0.2635},
      {"t":"2025-02-21T03:15","o":0.2635,"h":0.2657,"l":0.2633,"c":0.2655},
      {"t":"2025-02-21T03:30","o":0.2655,"h":0.2661,"l":0.2650,"c":0.2656},
      {"t":"2025-02-21T03:45","o":0.2653,"h":0.2688,"l":0.2642,"c":0.2686},
      {"t":"2025-02-21T04:00","o":0.2685,"h":0.2754,"l":0.2683,"c":0.2751},
      {"t":"2025-02-21T04:15","o":0.2751,"h":0.2781,"l":0.2749,"c":0.2777},
      {"t":"2025-02-21T04:30","o":0.2777,"h":0.2805,"l":0.2772,"c":0.2796},
      {"t":"2025-02-21T04:45","o":0.2796,"h":0.2807,"l":0.2772,"c":0.2775},
      {"t":"2025-02-21T05:00","o":0.2777,"h":0.2802,"l":0.2774,"c":0.2800},
      {"t":"2025-02-21T05:15","o":0.2798,"h":0.2812,"l":0.2777,"c":0.2779},
      {"t":"2025-02-21T05:30","o":0.2779,"h":0.2810,"l":0.2776,"c":0.2808},
      {"t":"2025-02-21T05:45","o":0.2808,"h":0.2851,"l":0.2806,"c":0.2838},
      {"t":"2025-02-21T06:00","o":0.2837,"h":0.2855,"l":0.2835,"c":0.2845},
      {"t":"2025-02-21T06:15","o":0.2845,"h":0.2846,"l":0.2819,"c":0.2842},
      {"t":"2025-02-21T06:30","o":0.2843,"h":0.2845,"l":0.2795,"c":0.2797},
      {"t":"2025-02-21T06:45","o":0.2801,"h":0.2803,"l":0.2743,"c":0.2746},
      {"t":"2025-02-21T07:00","o":0.2746,"h":0.2765,"l":0.2743,"c":0.2762},
      {"t":"2025-02-21T07:15","o":0.2762,"h":0.2784,"l":0.2760,"c":0.2775},
      {"t":"2025-02-21T07:30","o":0.2775,"h":0.2777,"l":0.2742,"c":0.2744},
      {"t":"2025-02-21T07:45","o":0.2744,"h":0.2746,"l":0.2722,"c":0.2724},
      {"t":"2025-02-21T08:00","o":0.2723,"h":0.2730,"l":0.2720,"c":0.2728},
      {"t":"2025-02-21T08:15","o":0.2727,"h":0.2745,"l":0.2725,"c":0.2743},
      {"t":"2025-02-21T08:30","o":0.2743,"h":0.2746,"l":0.2726,"c":0.2728},
      {"t":"2025-02-21T08:45","o":0.2728,"h":0.2754,"l":0.2726,"c":0.2752},
      {"t":"2025-02-21T09:00","o":0.2751,"h":0.2770,"l":0.2749,"c":0.2767},
      {"t":"2025-02-21T09:15","o":0.2767,"h":0.2789,"l":0.2760,"c":0.2763},
      {"t":"2025-02-21T09:30","o":0.2765,"h":0.2785,"l":0.2749,"c":0.2751},
      {"t":"2025-02-21T09:45","o":0.2751,"h":0.2766,"l":0.2748,"c":0.2763},
      {"t":"2025-02-21T10:00","o":0.2762,"h":0.2764,"l":0.2745,"c":0.2747},
      {"t":"2025-02-21T10:15","o":0.2749,"h":0.2762,"l":0.2746,"c":0.2759},
      {"t":"2025-02-21T10:30","o":0.2759,"h":0.2778,"l":0.2757,"c":0.2769},
      {"t":"2025-02-21T10:45","o":0.2769,"h":0.2771,"l":0.2756,"c":0.2758},
      {"t":"2025-02-21T11:00","o":0.2756,"h":0.2758,"l":0.2748,"c":0.2750},
      {"t":"2025-02-21T11:15","o":0.2751,"h":0.2753,"l":0.2741,"c":0.2745},
      {"t":"2025-02-21T11:30","o":0.2749,"h":0.2761,"l":0.2747,"c":0.2759},
      {"t":"2025-02-21T11:45","o":0.2759,"h":0.2761,"l":0.2739,"c":0.2741},
      {"t":"2025-02-21T12:00","o":0.2741,"h":0.2743,"l":0.2712,"c":0.2726},
      {"t":"2025-02-21T12:15","o":0.2725,"h":0.2734,"l":0.2723,"c":0.2727},
      {"t":"2025-02-21T12:30","o":0.2726,"h":0.2739,"l":0.2724,"c":0.2728},
      {"t":"2025-02-21T12:45","o":0.2727,"h":0.2733,"l":0.2722,"c":0.2729},
      {"t":"2025-02-21T13:00","o":0.2727,"h":0.2746,"l":0.2725,"c":0.2740},
      {"t":"2025-02-21T13:15","o":0.2739,"h":0.2742,"l":0.2728,"c":0.2730},
      {"t":"2025-02-21T13:30","o":0.2730,"h":0.2742,"l":0.2727,"c":0.2740},
      {"t":"2025-02-21T13:45","o":0.2735,"h":0.2769,"l":0.2733,"c":0.2746},
      {"t":"2025-02-21T14:00","o":0.2750,"h":0.2752,"l":0.2729,"c":0.2731},
      {"t":"2025-02-21T14:15","o":0.2729,"h":0.2751,"l":0.2727,"c":0.2748},
      {"t":"2025-02-21T14:30","o":0.2747,"h":0.2749,"l":0.2705,"c":0.2707},
      {"t":"2025-02-21T14:45","o":0.2706,"h":0.2725,"l":0.2704,"c":0.2715},
      {"t":"2025-02-21T15:00","o":0.2712,"h":0.2737,"l":0.2709,"c":0.2735},
      {"t":"2025-02-21T15:15","o":0.2733,"h":0.2737,"l":0.2694,"c":0.2696},
      {"t":"2025-02-21T15:30","o":0.2697,"h":0.2699,"l":0.2584,"c":0.2621},
      {"t":"2025-02-21T15:45","o":0.2621,"h":0.2635,"l":0.2617,"c":0.2630},
      {"t":"2025-02-21T16:00","o":0.2630,"h":0.2671,"l":0.2627,"c":0.2669},
      {"t":"2025-02-21T16:15","o":0.2671,"h":0.2680,"l":0.2648,"c":0.2650},
      {"t":"2025-02-21T16:30","o":0.2652,"h":0.2692,"l":0.2648,"c":0.2660},
      {"t":"2025-02-21T16:45","o":0.2660,"h":0.2662,"l":0.2646,"c":0.2657},
      {"t":"2025-02-21T17:00","o":0.2657,"h":0.2662,"l":0.2624,"c":0.2626},
      {"t":"2025-02-21T17:15","o":0.2626,"h":0.2655,"l":0.2623,"c":0.2632},
      {"t":"2025-02-21T17:30","o":0.2633,"h":0.2636,"l":0.2574,"c":0.2576},
      {"t":"2025-02-21T17:45","o":0.2578,"h":0.2595,"l":0.2572,"c":0.2585},
      {"t":"2025-02-21T18:00","o":0.2585,"h":0.2597,"l":0.2571,"c":0.2573},
      {"t":"2025-02-21T18:15","o":0.2575,"h":0.2590,"l":0.2572,"c":0.2585},
      {"t":"2025-02-21T18:30","o":0.2582,"h":0.2588,"l":0.2580,"c":0.2585},
      {"t":"2025-02-21T18:45","o":0.2585,"h":0.2587,"l":0.2569,"c":0.2571},
      {"t":"2025-02-21T19:00","o":0.2573,"h":0.2575,"l":0.2561,"c":0.2563},
      {"t":"2025-02-21T19:15","o":0.2563,"h":0.2564,"l":0.2528,"c":0.2530},
      {"t":"2025-02-21T19:30","o":0.2530,"h":0.2540,"l":0.2512,"c":0.2514},
      {"t":"2025-02-21T19:45","o":0.2517,"h":0.2519,"l":0.2499,"c":0.2513},
      {"t":"2025-02-21T20:00","o":0.2515,"h":0.2543,"l":0.2512,"c":0.2532},
      {"t":"2025-02-21T20:15","o":0.2532,"h":0.2541,"l":0.2530,"c":0.2536},
      {"t":"2025-02-21T20:30","o":0.2532,"h":0.2543,"l":0.2524,"c":0.2537},
      {"t":"2025-02-21T20:45","o":0.2536,"h":0.2538,"l":0.2522,"c":0.2524},
      {"t":"2025-02-21T21:00","o":0.2522,"h":0.2542,"l":0.2515,"c":0.2517},
      {"t":"2025-02-21T21:15","o":0.2520,"h":0.2521,"l":0.2503,"c":0.2505},
      {"t":"2025-02-21T21:30","o":0.2505,"h":0.2507,"l":0.2489,"c":0.2500},
      {"t":"2025-02-21T21:45","o":0.2501,"h":0.2524,"l":0.2498,"c":0.2522},
      {"t":"2025-02-21T22:00","o":0.2517,"h":0.2531,"l":0.2515,"c":0.2529},
      {"t":"2025-02-21T22:15","o":0.2528,"h":0.2563,"l":0.2526,"c":0.2561},
      {"t":"2025-02-21T22:30","o":0.2561,"h":0.2566,"l":0.2534,"c":0.2554},
      {"t":"2025-02-21T22:45","o":0.2554,"h":0.2575,"l":0.2552,"c":0.2563},
      {"t":"2025-02-21T23:00","o":0.2567,"h":0.2570,"l":0.2552,"c":0.2556},
      {"t":"2025-02-21T23:15","o":0.2556,"h":0.2564,"l":0.2551,"c":0.2559},
      {"t":"2025-02-21T23:30","o":0.2561,"h":0.2566,"l":0.2549,"c":0.2555},
      {"t":"2025-02-21T23:45","o":0.2555,"h":0.2557,"l":0.2548,"c":0.2553},
      {"t":"2025-02-22T00:00","o":0.2554,"h":0.2555,"l":0.2526,"c":0.2552},
      {"t":"2025-02-22T00:15","o":0.2553,"h":0.2597,"l":0.2551,"c":0.2591},
      {"t":"2025-02-22T00:30","o":0.2590,"h":0.2652,"l":0.2588,"c":0.2648},
      {"t":"2025-02-22T00:45","o":0.2648,"h":0.2650,"l":0.2616,"c":0.2626},
      {"t":"2025-02-22T01:00","o":0.2626,"h":0.2665,"l":0.2616,"c":0.2660},
      {"t":"2025-02-22T01:15","o":0.2660,"h":0.2693,"l":0.2658,"c":0.2687},
      {"t":"2025-02-22T01:30","o":0.2687,"h":0.2789,"l":0.2685,"c":0.2730},
      {"t":"2025-02-22T01:45","o":0.2730,"h":0.2777,"l":0.2728,"c":0.2752},
      {"t":"2025-02-22T02:00","o":0.2752,"h":0.2757,"l":0.2706,"c":0.2716},
      {"t":"2025-02-22T02:15","o":0.2717,"h":0.2720,"l":0.2682,"c":0.2684},
      {"t":"2025-02-22T02:30","o":0.2685,"h":0.2718,"l":0.2683,"c":0.2716},
      {"t":"2025-02-22T02:45","o":0.2716,"h":0.2723,"l":0.2712,"c":0.2719},
      {"t":"2025-02-22T03:00","o":0.2718,"h":0.2767,"l":0.2714,"c":0.2765},
      {"t":"2025-02-22T03:15","o":0.2764,"h":0.2801,"l":0.2762,"c":0.2779},
      {"t":"2025-02-22T03:30","o":0.2776,"h":0.2808,"l":0.2774,"c":0.2784},
      {"t":"2025-02-22T03:45","o":0.2783,"h":0.2800,"l":0.2777,"c":0.2785},
      {"t":"2025-02-22T04:00","o":0.2782,"h":0.2912,"l":0.2778,"c":0.2837},
      {"t":"2025-02-22T04:15","o":0.2835,"h":0.2873,"l":0.2804,"c":0.2808},
      {"t":"2025-02-22T04:30","o":0.2809,"h":0.2812,"l":0.2771,"c":0.2779},
      {"t":"2025-02-22T04:45","o":0.2779,"h":0.2805,"l":0.2776,"c":0.2800},
      {"t":"2025-02-22T05:00","o":0.2800,"h":0.2838,"l":0.2798,"c":0.2811},
      {"t":"2025-02-22T05:15","o":0.2811,"h":0.2827,"l":0.2803,"c":0.2806},
      {"t":"2025-02-22T05:30","o":0.2806,"h":0.2809,"l":0.2775,"c":0.2792},
      {"t":"2025-02-22T05:45","o":0.2794,"h":0.2796,"l":0.2774,"c":0.2776},
      {"t":"2025-02-22T06:00","o":0.2776,"h":0.2782,"l":0.2769,"c":0.2772},
      {"t":"2025-02-22T06:15","o":0.2772,"h":0.2774,"l":0.2748,"c":0.2750},
      {"t":"2025-02-22T06:30","o":0.2750,"h":0.2757,"l":0.2744,"c":0.2752},
      {"t":"2025-02-22T06:45","o":0.2751,"h":0.2753,"l":0.2726,"c":0.2728},
      {"t":"2025-02-22T07:00","o":0.2728,"h":0.2744,"l":0.2726,"c":0.2742},
      {"t":"2025-02-22T07:15","o":0.2741,"h":0.2760,"l":0.2739,"c":0.2749},
      {"t":"2025-02-22T07:30","o":0.2749,"h":0.2767,"l":0.2747,"c":0.2765},
      {"t":"2025-02-22T07:45","o":0.2765,"h":0.2769,"l":0.2725,"c":0.2727},
      {"t":"2025-02-22T08:00","o":0.2729,"h":0.2732,"l":0.2716,"c":0.2720},
      {"t":"2025-02-22T08:15","o":0.2720,"h":0.2733,"l":0.2718,"c":0.2729},
      {"t":"2025-02-22T08:30","o":0.2730,"h":0.2732,"l":0.2710,"c":0.2712},
      {"t":"2025-02-22T08:45","o":0.2713,"h":0.2715,"l":0.2704,"c":0.2706},
      {"t":"2025-02-22T09:00","o":0.2706,"h":0.2717,"l":0.2698,"c":0.2715},
      {"t":"2025-02-22T09:15","o":0.2715,"h":0.2723,"l":0.2712,"c":0.2721},
      {"t":"2025-02-22T09:30","o":0.2721,"h":0.2727,"l":0.2717,"c":0.2719},
      {"t":"2025-02-22T09:45","o":0.2720,"h":0.2727,"l":0.2711,"c":0.2713},
      {"t":"2025-02-22T10:00","o":0.2715,"h":0.2717,"l":0.2690,"c":0.2696},
      {"t":"2025-02-22T10:15","o":0.2696,"h":0.2719,"l":0.2694,"c":0.2717},
      {"t":"2025-02-22T10:30","o":0.2717,"h":0.2723,"l":0.2714,"c":0.2721},
      {"t":"2025-02-22T10:45","o":0.2721,"h":0.2728,"l":0.2719,"c":0.2722},
      {"t":"2025-02-22T11:00","o":0.2722,"h":0.2740,"l":0.2720,"c":0.2738},
      {"t":"2025-02-22T11:15","o":0.2736,"h":0.2737,"l":0.2728,"c":0.2731},
      {"t":"2025-02-22T11:30","o":0.2731,"h":0.2748,"l":0.2729,"c":0.2742},
      {"t":"2025-02-22T11:45","o":0.2741,"h":0.2770,"l":0.2739,"c":0.2765},
      {"t":"2025-02-22T12:00","o":0.2765,"h":0.2800,"l":0.2763,"c":0.2796},
      {"t":"2025-02-22T12:15","o":0.2791,"h":0.2800,"l":0.2784,"c":0.2786},
      {"t":"2025-02-22T12:30","o":0.2786,"h":0.2802,"l":0.2784,"c":0.2799},
      {"t":"2025-02-22T12:45","o":0.2796,"h":0.2831,"l":0.2794,"c":0.2828},
      {"t":"2025-02-22T13:00","o":0.2828,"h":0.2834,"l":0.2819,"c":0.2821},
      {"t":"2025-02-22T13:15","o":0.2821,"h":0.2823,"l":0.2794,"c":0.2796},
      {"t":"2025-02-22T13:30","o":0.2796,"h":0.2798,"l":0.2765,"c":0.2768},
      {"t":"2025-02-22T13:45","o":0.2768,"h":0.2770,"l":0.2750,"c":0.2760},
      {"t":"2025-02-22T14:00","o":0.2759,"h":0.2777,"l":0.2757,"c":0.2774},
      {"t":"2025-02-22T14:15","o":0.2774,"h":0.2790,"l":0.2769,"c":0.2771},
      {"t":"2025-02-22T14:30","o":0.2771,"h":0.2779,"l":0.2768,"c":0.2774},
      {"t":"2025-02-22T14:45","o":0.2773,"h":0.2791,"l":0.2771,"c":0.2783},
      {"t":"2025-02-22T15:00","o":0.2783,"h":0.2797,"l":0.2781,"c":0.2795},
      {"t":"2025-02-22T15:15","o":0.2795,"h":0.2797,"l":0.2779,"c":0.2790},
      {"t":"2025-02-22T15:30","o":0.2790,"h":0.2792,"l":0.2768,"c":0.2772},
      {"t":"2025-02-22T15:45","o":0.2771,"h":0.2773,"l":0.2758,"c":0.2763},
      {"t":"2025-02-22T16:00","o":0.2762,"h":0.2768,"l":0.2757,"c":0.2765},
      {"t":"2025-02-22T16:15","o":0.2765,"h":0.2767,"l":0.2746,"c":0.2749},
      {"t":"2025-02-22T16:30","o":0.2749,"h":0.2751,"l":0.2735,"c":0.2745},
      {"t":"2025-02-22T16:45","o":0.2742,"h":0.2749,"l":0.2733,"c":0.2746},
      {"t":"2025-02-22T17:00","o":0.2746,"h":0.2758,"l":0.2744,"c":0.2755},
      {"t":"2025-02-22T17:15","o":0.2755,"h":0.2761,"l":0.2753,"c":0.2758},
      {"t":"2025-02-22T17:30","o":0.2757,"h":0.2762,"l":0.2755,"c":0.2759},
      {"t":"2025-02-22T17:45","o":0.2759,"h":0.2767,"l":0.2757,"c":0.2764},
      {"t":"2025-02-22T18:00","o":0.2764,"h":0.2784,"l":0.2762,"c":0.2782},
      {"t":"2025-02-22T18:15","o":0.2782,"h":0.2811,"l":0.2780,"c":0.2809},
      {"t":"2025-02-22T18:30","o":0.2809,"h":0.2819,"l":0.2795,"c":0.2814},
      {"t":"2025-02-22T18:45","o":0.2813,"h":0.2822,"l":0.2811,"c":0.2818},
      {"t":"2025-02-22T19:00","o":0.2818,"h":0.2840,"l":0.2816,"c":0.2838},
      {"t":"2025-02-22T19:15","o":0.2838,"h":0.2888,"l":0.2836,"c":0.2854},
      {"t":"2025-02-22T19:30","o":0.2855,"h":0.2858,"l":0.2836,"c":0.2838},
      {"t":"2025-02-22T19:45","o":0.2838,"h":0.2845,"l":0.2830,"c":0.2833},
      {"t":"2025-02-22T20:00","o":0.2834,"h":0.2836,"l":0.2802,"c":0.2804},
      {"t":"2025-02-22T20:15","o":0.2808,"h":0.2810,"l":0.2799,"c":0.2801},
      {"t":"2025-02-22T20:30","o":0.2799,"h":0.2808,"l":0.2797,"c":0.2803},
      {"t":"2025-02-22T20:45","o":0.2803,"h":0.2805,"l":0.2792,"c":0.2794},
      {"t":"2025-02-22T21:00","o":0.2796,"h":0.2798,"l":0.2788,"c":0.2790},
      {"t":"2025-02-22T21:15","o":0.2791,"h":0.2793,"l":0.2780,"c":0.2786},
      {"t":"2025-02-22T21:30","o":0.2783,"h":0.2791,"l":0.2781,"c":0.2789},
      {"t":"2025-02-22T21:45","o":0.2788,"h":0.2807,"l":0.2786,"c":0.2805},
      {"t":"2025-02-22T22:00","o":0.2805,"h":0.2837,"l":0.2803,"c":0.2817},
      {"t":"2025-02-22T22:15","o":0.2824,"h":0.2845,"l":0.2814,"c":0.2816},
      {"t":"2025-02-22T22:30","o":0.2816,"h":0.2820,"l":0.2814,"c":0.2818},
      {"t":"2025-02-22T22:45","o":0.2816,"h":0.2818,"l":0.2802,"c":0.2804},
      {"t":"2025-02-22T23:00","o":0.2803,"h":0.2814,"l":0.2782,"c":0.2812},
      {"t":"2025-02-22T23:15","o":0.2812,"h":0.2816,"l":0.2810,"c":0.2813},
      {"t":"2025-02-22T23:30","o":0.2814,"h":0.2819,"l":0.2806,"c":0.2808},
      {"t":"2025-02-22T23:45","o":0.2808,"h":0.2810,"l":0.2793,"c":0.2796},
      {"t":"2025-02-23T00:00","o":0.2795,"h":0.2858,"l":0.2793,"c":0.2807},
      {"t":"2025-02-23T00:15","o":0.2807,"h":0.2826,"l":0.2759,"c":0.2771},
      {"t":"2025-02-23T00:30","o":0.2772,"h":0.2790,"l":0.2769,"c":0.2788},
      {"t":"2025-02-23T00:45","o":0.2786,"h":0.2788,"l":0.2763,"c":0.2765},
      {"t":"2025-02-23T01:00","o":0.2773,"h":0.2785,"l":0.2771,"c":0.2782},
      {"t":"2025-02-23T01:15","o":0.2782,"h":0.2784,"l":0.2764,"c":0.2766},
      {"t":"2025-02-23T01:30","o":0.2766,"h":0.2768,"l":0.2755,"c":0.2757},
      {"t":"2025-02-23T01:45","o":0.2751,"h":0.2759,"l":0.2749,"c":0.2757},
      {"t":"2025-02-23T02:00","o":0.2757,"h":0.2761,"l":0.2755,"c":0.2759},
      {"t":"2025-02-23T02:15","o":0.2759,"h":0.2760,"l":0.2753,"c":0.2756},
      {"t":"2025-02-23T02:30","o":0.2756,"h":0.2757,"l":0.2737,"c":0.2739},
      {"t":"2025-02-23T02:45","o":0.2733,"h":0.2740,"l":0.2731,"c":0.2738},
      {"t":"2025-02-23T03:00","o":0.2736,"h":0.2753,"l":0.2734,"c":0.2740},
      {"t":"2025-02-23T03:15","o":0.2738,"h":0.2751,"l":0.2736,"c":0.2749},
      {"t":"2025-02-23T03:30","o":0.2749,"h":0.2754,"l":0.2747,"c":0.2751},
      {"t":"2025-02-23T03:45","o":0.2751,"h":0.2759,"l":0.2749,"c":0.2753},
      {"t":"2025-02-23T04:00","o":0.2753,"h":0.2755,"l":0.2717,"c":0.2727},
      {"t":"2025-02-23T04:15","o":0.2725,"h":0.2733,"l":0.2723,"c":0.2731},
      {"t":"2025-02-23T04:30","o":0.2731,"h":0.2733,"l":0.2725,"c":0.2727},
      {"t":"2025-02-23T04:45","o":0.2727,"h":0.2728,"l":0.2719,"c":0.2721},
      {"t":"2025-02-23T05:00","o":0.2721,"h":0.2729,"l":0.2719,"c":0.2727},
      {"t":"2025-02-23T05:15","o":0.2727,"h":0.2728,"l":0.2719,"c":0.2721},
      {"t":"2025-02-23T05:30","o":0.2722,"h":0.2724,"l":0.2709,"c":0.2711},
      {"t":"2025-02-23T05:45","o":0.2709,"h":0.2718,"l":0.2707,"c":0.2716},
      {"t":"2025-02-23T06:00","o":0.2715,"h":0.2717,"l":0.2704,"c":0.2706},
      {"t":"2025-02-23T06:15","o":0.2705,"h":0.2709,"l":0.2699,"c":0.2707},
      {"t":"2025-02-23T06:30","o":0.2707,"h":0.2716,"l":0.2705,"c":0.2714},
      {"t":"2025-02-23T06:45","o":0.2714,"h":0.2722,"l":0.2712,"c":0.2716},
      {"t":"2025-02-23T07:00","o":0.2720,"h":0.2722,"l":0.2713,"c":0.2715},
      {"t":"2025-02-23T07:15","o":0.2715,"h":0.2736,"l":0.2713,"c":0.2734},
      {"t":"2025-02-23T07:30","o":0.2734,"h":0.2764,"l":0.2732,"c":0.2762},
      {"t":"2025-02-23T07:45","o":0.2762,"h":0.2805,"l":0.2760,"c":0.2796},
      {"t":"2025-02-23T08:00","o":0.2796,"h":0.2798,"l":0.2780,"c":0.2782},
      {"t":"2025-02-23T08:15","o":0.2782,"h":0.2784,"l":0.2761,"c":0.2763},
      {"t":"2025-02-23T08:30","o":0.2762,"h":0.2767,"l":0.2760,"c":0.2765},
      {"t":"2025-02-23T08:45","o":0.2763,"h":0.2765,"l":0.2753,"c":0.2755},
      {"t":"2025-02-23T09:00","o":0.2755,"h":0.2757,"l":0.2744,"c":0.2746},
      {"t":"2025-02-23T09:15","o":0.2745,"h":0.2759,"l":0.2734,"c":0.2746},
      {"t":"2025-02-23T09:30","o":0.2746,"h":0.2758,"l":0.2744,"c":0.2751},
      {"t":"2025-02-23T09:45","o":0.2751,"h":0.2759,"l":0.2747,"c":0.2749},
      {"t":"2025-02-23T10:00","o":0.2748,"h":0.2748,"l":0.2731,"c":0.2734}
    ]
  },
  "data": {"name": "candles", "format": {"parse": {"t": "utc:'%Y-%m-%dT%H:%M'"}}},
  "layer": [
    {
      "data": {"name": "ticks", "format": {"parse": {"t": "utc:'%Y-%m-%dT%H:%M'"}}},
      "mark": {"type": "rule", "color": "#242833", "strokeWidth": 1},
      "encoding": {
        "x": {"field": "t", "type": "temporal", "axis": null,
              "scale": {"type": "utc", "nice": false, "range": [1.75, 1759.55],
                        "domain": [{"year": 2025, "month": 2, "date": 17, "hours": 18, "utc": true}, {"year": 2025, "month": 2, "date": 23, "hours": 10, "utc": true}]}},
        "y": {"datum": 0.300714, "type": "quantitative", "axis": null,
              "scale": {"domain": [0.21, 0.295], "range": [762, 48], "zero": false, "nice": false}},
        "y2": {"datum": 0.206155}
      }
    },
    {
      "data": {"name": "levels"},
      "mark": {"type": "rule", "color": "#242833", "strokeWidth": 1},
      "encoding": {
        "y": {"field": "p", "type": "quantitative", "axis": null},
        "x": {"datum": {"year": 2025, "month": 2, "date": 17, "hours": 17, "minutes": 51, "seconds": 52, "utc": true}, "type": "temporal", "axis": null},
        "x2": {"datum": {"year": 2025, "month": 2, "date": 23, "hours": 10, "minutes": 14, "seconds": 37, "utc": true}}
      }
    },
    {
      "data": {"values": [{}]},
      "mark": {"type": "rule", "color": "#ef5350", "strokeWidth": 1, "strokeDash": [1, 2]},
      "encoding": {
        "y": {"datum": 0.2734, "type": "quantitative", "axis": null},
        "x": {"datum": {"year": 2025, "month": 2, "date": 17, "hours": 17, "minutes": 51, "seconds": 52, "utc": true}, "type": "temporal", "axis": null},
        "x2": {"datum": {"year": 2025, "month": 2, "date": 23, "hours": 10, "minutes": 14, "seconds": 37, "utc": true}}
      }
    },
    {
      "mark": {"type": "rule", "strokeWidth": 1},
      "encoding": {
        "x": {"field": "t", "type": "temporal", "axis": null},
        "y": {"field": "l", "type": "quantitative", "axis": null},
        "y2": {"field": "h"},
        "color": {"condition": {"test": "datum.c >= datum.o", "value": "#26a69a"}, "value": "#ef5350"}
      }
    },
    {
      "mark": {"type": "bar", "width": 2.3, "minBandSize": 1},
      "encoding": {
        "x": {"field": "t", "type": "temporal", "axis": null},
        "y": {"field": "o", "type": "quantitative", "axis": null},
        "y2": {"field": "c"},
        "color": {"condition": {"test": "datum.c >= datum.o", "value": "#26a69a"}, "value": "#ef5350"}
      }
    },
    {
      "data": {"values": [{}]},
      "mark": {"type": "rule", "color": "#2f333e", "strokeWidth": 1},
      "encoding": {
        "x": {"datum": {"year": 2025, "month": 2, "date": 23, "hours": 10, "minutes": 14, "seconds": 37, "utc": true}, "type": "temporal", "axis": null}
      }
    },
    {
      "data": {"values": [{}]},
      "mark": {"type": "rule", "color": "#2f333e", "strokeWidth": 1},
      "encoding": {
        "y": {"datum": 0.206155, "type": "quantitative", "axis": null}
      }
    },
    {
      "data": {"name": "levels"},
      "transform": [{"filter": "datum.p != 0.275 && datum.p < 0.3"}],
      "mark": {"type": "text", "align": "left", "baseline": "middle", "color": "#b2b5be", "fontSize": 12},
      "encoding": {
        "y": {"field": "p", "type": "quantitative", "axis": null},
        "x": {"datum": {"year": 2025, "month": 2, "date": 23, "hours": 10, "minutes": 53, "utc": true}, "type": "temporal", "axis": null},
        "text": {"field": "p", "type": "quantitative", "format": ".4f"}
      }
    },
    {
      "data": {"name": "ticks", "format": {"parse": {"t": "utc:'%Y-%m-%dT%H:%M'"}}},
      "mark": {"type": "text", "align": "center", "baseline": "middle", "color": "#b2b5be", "fontSize": 12, "clip": true},
      "encoding": {
        "x": {"field": "t", "type": "temporal", "axis": null},
        "y": {"datum": 0.204524, "type": "quantitative", "axis": null},
        "text": {"field": "lab", "type": "nominal"}
      }
    },
    {
      "data": {"values": [{}]},
      "mark": {"type": "rect", "fill": "#0f0f0f", "stroke": "#3a3a3a", "strokeWidth": 1, "cornerRadius": 4},
      "encoding": {
        "x": {"datum": {"year": 2025, "month": 2, "date": 23, "hours": 10, "minutes": 30, "utc": true}, "type": "temporal", "axis": null},
        "x2": {"datum": {"year": 2025, "month": 2, "date": 23, "hours": 14, "minutes": 3, "seconds": 30, "utc": true}},
        "y": {"datum": 0.300119, "type": "quantitative", "axis": null},
        "y2": {"datum": 0.297024}
      }
    },
    {
      "data": {"values": [{}]},
      "mark": {"type": "text", "text": "USD", "align": "center", "baseline": "middle", "color": "#f0f0f0", "fontSize": 12, "fontWeight": 600},
      "encoding": {
        "x": {"datum": {"year": 2025, "month": 2, "date": 23, "hours": 12, "minutes": 17, "utc": true}, "type": "temporal", "axis": null},
        "y": {"datum": 0.298571, "type": "quantitative", "axis": null}
      }
    },
    {
      "data": {"values": [{}]},
      "mark": {"type": "rect", "fill": "#161a25", "stroke": "#26a69a", "strokeWidth": 1, "cornerRadius": 2},
      "encoding": {
        "x": {"datum": {"year": 2025, "month": 2, "date": 23, "hours": 10, "minutes": 16, "utc": true}, "type": "temporal", "axis": null},
        "x2": {"datum": {"year": 2025, "month": 2, "date": 23, "hours": 14, "minutes": 3, "seconds": 30, "utc": true}},
        "y": {"datum": 0.27631, "type": "quantitative", "axis": null},
        "y2": {"datum": 0.2744}
      }
    },
    {
      "data": {"values": [{}]},
      "mark": {"type": "text", "text": "0.2749", "align": "center", "baseline": "middle", "color": "#26a69a", "fontSize": 12},
      "encoding": {
        "x": {"datum": {"year": 2025, "month": 2, "date": 23, "hours": 12, "minutes": 10, "utc": true}, "type": "temporal", "axis": null},
        "y": {"datum": 0.275357, "type": "quantitative", "axis": null}
      }
    },
    {
      "data": {"values": [{}]},
      "mark": {"type": "rect", "fill": "#ef5350", "cornerRadius": 2},
      "encoding": {
        "x": {"datum": {"year": 2025, "month": 2, "date": 23, "hours": 10, "minutes": 16, "utc": true}, "type": "temporal", "axis": null},
        "x2": {"datum": {"year": 2025, "month": 2, "date": 23, "hours": 14, "minutes": 3, "seconds": 30, "utc": true}},
        "y": {"datum": 0.27429, "type": "quantitative", "axis": null},
        "y2": {"datum": 0.27238}
      }
    },
    {
      "data": {"values": [{}]},
      "mark": {"type": "text", "text": "0.2734", "align": "center", "baseline": "middle", "color": "#ffffff", "fontSize": 12, "fontWeight": 700},
      "encoding": {
        "x": {"datum": {"year": 2025, "month": 2, "date": 23, "hours": 12, "minutes": 10, "utc": true}, "type": "temporal", "axis": null},
        "y": {"datum": 0.273333, "type": "quantitative", "axis": null}
      }
    },
    {
      "data": {"values": [{}]},
      "mark": {"type": "text", "text": "Sei / US Dollar, 15, COINBASE", "align": "left", "baseline": "middle", "color": "#d1d4dc", "fontSize": 11.4},
      "encoding": {
        "x": {"datum": {"year": 2025, "month": 2, "date": 17, "hours": 18, "minutes": 33, "seconds": 40, "utc": true}, "type": "temporal", "axis": null},
        "y": {"datum": 0.29881, "type": "quantitative", "axis": null}
      }
    },
    {
      "data": {"values": [{}]},
      "mark": {"type": "text", "text": "O", "align": "right", "baseline": "middle", "color": "#d1d4dc", "fontSize": 11.4},
      "encoding": {
        "x": {"datum": {"year": 2025, "month": 2, "date": 18, "hours": 7, "minutes": 15, "utc": true}, "type": "temporal", "axis": null},
        "y": {"datum": 0.29881, "type": "quantitative", "axis": null}
      }
    },
    {
      "data": {"values": [{}]},
      "mark": {"type": "text", "text": "0.2748", "align": "left", "baseline": "middle", "color": "#ef5350", "fontSize": 12},
      "encoding": {
        "x": {"datum": {"year": 2025, "month": 2, "date": 18, "hours": 7, "minutes": 24, "seconds": 18, "utc": true}, "type": "temporal", "axis": null},
        "y": {"datum": 0.29881, "type": "quantitative", "axis": null}
      }
    },
    {
      "data": {"values": [{}]},
      "mark": {"type": "text", "text": "H", "align": "right", "baseline": "middle", "color": "#d1d4dc", "fontSize": 11.4},
      "encoding": {
        "x": {"datum": {"year": 2025, "month": 2, "date": 18, "hours": 11, "minutes": 39, "seconds": 36, "utc": true}, "type": "temporal", "axis": null},
        "y": {"datum": 0.29881, "type": "quantitative", "axis": null}
      }
    },
    {
      "data": {"values": [{}]},
      "mark": {"type": "text", "text": "0.2748", "align": "left", "baseline": "middle", "color": "#ef5350", "fontSize": 12},
      "encoding": {
        "x": {"datum": {"year": 2025, "month": 2, "date": 18, "hours": 11, "minutes": 48, "seconds": 54, "utc": true}, "type": "temporal", "axis": null},
        "y": {"datum": 0.29881, "type": "quantitative", "axis": null}
      }
    },
    {
      "data": {"values": [{}]},
      "mark": {"type": "text", "text": "L", "align": "right", "baseline": "middle", "color": "#d1d4dc", "fontSize": 11.4},
      "encoding": {
        "x": {"datum": {"year": 2025, "month": 2, "date": 18, "hours": 15, "minutes": 36, "seconds": 18, "utc": true}, "type": "temporal", "axis": null},
        "y": {"datum": 0.29881, "type": "quantitative", "axis": null}
      }
    },
    {
      "data": {"values": [{}]},
      "mark": {"type": "text", "text": "0.2731", "align": "left", "baseline": "middle", "color": "#ef5350", "fontSize": 12},
      "encoding": {
        "x": {"datum": {"year": 2025, "month": 2, "date": 18, "hours": 15, "minutes": 45, "seconds": 36, "utc": true}, "type": "temporal", "axis": null},
        "y": {"datum": 0.29881, "type": "quantitative", "axis": null}
      }
    },
    {
      "data": {"values": [{}]},
      "mark": {"type": "text", "text": "C", "align": "right", "baseline": "middle", "color": "#d1d4dc", "fontSize": 11.4},
      "encoding": {
        "x": {"datum": {"year": 2025, "month": 2, "date": 18, "hours": 19, "minutes": 28, "seconds": 24, "utc": true}, "type": "temporal", "axis": null},
        "y": {"datum": 0.29881, "type": "quantitative", "axis": null}
      }
    },
    {
      "data": {"values": [{}]},
      "mark": {"type": "text", "text": "0.2734", "align": "left", "baseline": "middle", "color": "#ef5350", "fontSize": 12},
      "encoding": {
        "x": {"datum": {"year": 2025, "month": 2, "date": 18, "hours": 19, "minutes": 37, "seconds": 42, "utc": true}, "type": "temporal", "axis": null},
        "y": {"datum": 0.29881, "type": "quantitative", "axis": null}
      }
    },
    {
      "data": {"values": [{}]},
      "mark": {"type": "text", "text": "−0.0015 (−0.55%)", "align": "left", "baseline": "middle", "color": "#ef5350", "fontSize": 12},
      "encoding": {
        "x": {"datum": {"year": 2025, "month": 2, "date": 18, "hours": 22, "minutes": 57, "seconds": 18, "utc": true}, "type": "temporal", "axis": null},
        "y": {"datum": 0.29881, "type": "quantitative", "axis": null}
      }
    },
    {
      "data": {"values": [{}]},
      "mark": {"type": "text", "text": "TV", "align": "left", "baseline": "middle", "color": "#e6e6e6", "fontSize": 14, "fontWeight": 900},
      "encoding": {
        "x": {"datum": {"year": 2025, "month": 2, "date": 17, "hours": 17, "minutes": 56, "seconds": 30, "utc": true}, "type": "temporal", "axis": null},
        "y": {"datum": 0.200714, "type": "quantitative", "axis": null}
      }
    },
    {
      "data": {"values": [{}]},
      "mark": {"type": "text", "text": "TradingView", "align": "left", "baseline": "middle", "color": "#d8d8d8", "fontSize": 14, "fontWeight": 400},
      "encoding": {
        "x": {"datum": {"year": 2025, "month": 2, "date": 17, "hours": 19, "minutes": 43, "utc": true}, "type": "temporal", "axis": null},
        "y": {"datum": 0.200714, "type": "quantitative", "axis": null}
      }
    }
  ]
}
